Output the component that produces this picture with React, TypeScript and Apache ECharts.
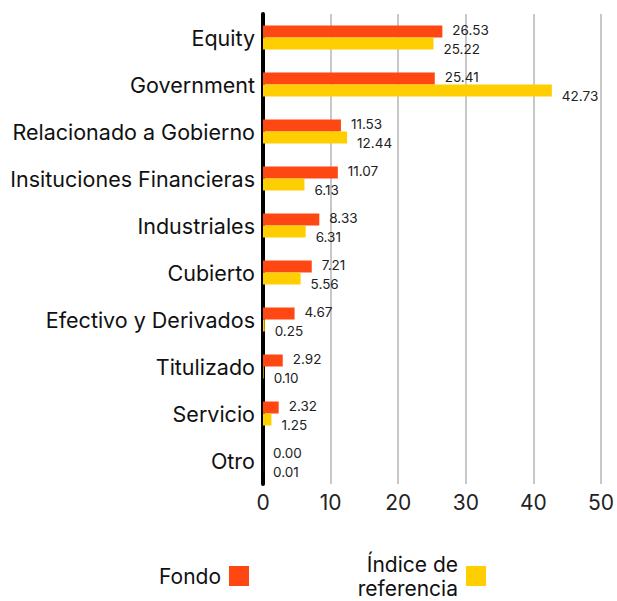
import React, { useEffect, useRef } from "react";
import * as echarts from "echarts";

const categories = [
  "Equity",
  "Government",
  "Relacionado a Gobierno",
  "Insituciones Financieras",
  "Industriales",
  "Cubierto",
  "Efectivo y Derivados",
  "Titulizado",
  "Servicio",
  "Otro",
];
const fondo = [26.53, 25.41, 11.53, 11.07, 8.33, 7.21, 4.67, 2.92, 2.32, 0.0];
const indice = [25.22, 42.73, 12.44, 6.13, 6.31, 5.56, 0.25, 0.1, 1.25, 0.01];
const seriesNames = ["Fondo", "Índice de\nreferencia"];

const FONT = "Inter";

export default function App() {
  const ref = useRef<HTMLDivElement>(null);
  useEffect(() => {
    if (!ref.current) return;
    const chart = echarts.init(ref.current, null, { renderer: "svg" });
    const labelBase = {
      show: true,
      position: "right" as const,
      fontSize: 13.5,
      fontFamily: FONT,
      color: "#222",
      formatter: (p: any) => Number(p.value).toFixed(2),
    };
    const legendBase = {
      padding: 0,
      align: "right",
      itemWidth: 20,
      itemHeight: 20,
      icon: "rect",
      textStyle: {
        fontSize: 21,
        color: "#111",
        fontFamily: FONT,
        lineHeight: 24,
        padding: [0, 3, 0, 0],
      },
    };
    chart.setOption({
      animation: false,
      textStyle: { fontFamily: FONT },
      grid: { left: 263, right: 13, top: 14, bottom: 117, containLabel: false },
      xAxis: {
        type: "value",
        min: 0,
        max: 50,
        interval: 10,
        axisLine: { show: false },
        axisTick: { show: false },
        axisLabel: { fontSize: 21, color: "#222", margin: 8, fontFamily: FONT },
        splitLine: { lineStyle: { color: "#c8c8c8", width: 2 } },
      },
      yAxis: {
        type: "category",
        inverse: true,
        data: categories,
        axisLine: { show: true, lineStyle: { color: "#000", width: 4 } },
        axisTick: { show: false },
        axisLabel: { fontSize: 21.5, color: "#111", margin: 8, fontFamily: FONT },
        splitLine: { show: false },
      },
      legend: [
        { ...legendBase, right: 368, top: 564, data: [seriesNames[0]] },
        { ...legendBase, right: 131, top: 552, data: [seriesNames[1]] },
      ],
      series: [
        {
          name: seriesNames[0],
          type: "bar",
          data: fondo,
          barWidth: 12,
          barGap: "0%",
          itemStyle: { color: "#FF4713" },
          label: { ...labelBase, offset: [5, -2] },
        },
        {
          name: seriesNames[1],
          type: "bar",
          data: indice,
          barWidth: 12,
          barGap: "0%",
          itemStyle: { color: "#FFCE00" },
          label: { ...labelBase, offset: [5, 5] },
        },
      ],
    });
    return () => chart.dispose();
  }, []);
  return <div ref={ref} style={{ width: 617, height: 601, position: "absolute", left: 0, top: 0 }} />;
}
